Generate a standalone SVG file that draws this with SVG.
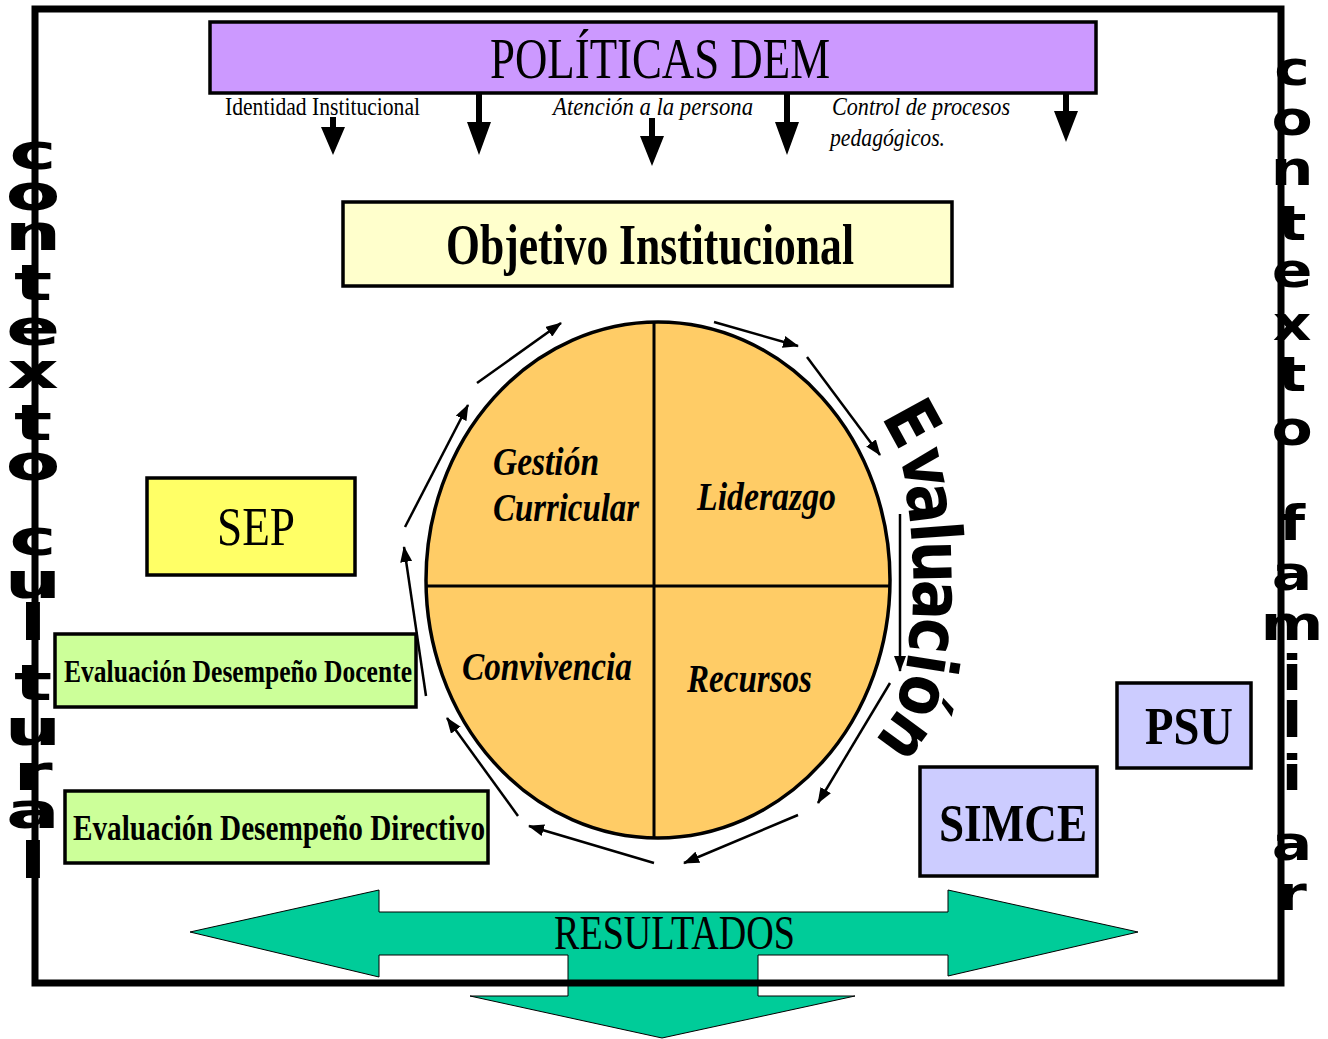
<svg xmlns="http://www.w3.org/2000/svg" width="1328" height="1039" viewBox="0 0 1328 1039">
<style>
.serif{font-family:"Liberation Serif","Times New Roman",serif;fill:#000}
.b{font-weight:bold}
.i{font-style:italic}
.ctx{font-family:"DejaVu Sans",sans-serif;font-weight:bold;fill:#000;text-anchor:middle}
.ev{font-family:"DejaVu Sans",sans-serif;font-weight:bold;fill:#000;text-anchor:middle;font-size:70px}
.box{stroke:#000;stroke-width:3.5}
.cyc{stroke:#000;stroke-width:2.5;fill:none;marker-end:url(#ah)}
.dn{fill:#000}
</style>
<defs>
<marker id="ah" markerUnits="userSpaceOnUse" markerWidth="16" markerHeight="12" refX="15" refY="6" orient="auto">
<path d="M0,0 L16,6 L0,12 z" fill="#000"/>
</marker>
</defs>
<rect width="1328" height="1039" fill="#fff"/>

<g id="resultados">
<polygon points="190,932 379,890 379,912 948,912 948,890 1138,932 948,976 948,955 758,955 758,996 855,996 662,1038 470,996 568,996 568,955 379,955 379,977" fill="#00CC99" stroke="#000" stroke-width="1"/>
<text class="serif" x="554" y="949" font-size="48" textLength="241" lengthAdjust="spacingAndGlyphs">RESULTADOS</text>
</g>

<g id="frame">
<rect x="35" y="9" width="1246" height="974" fill="none" stroke="#000" stroke-width="7"/>
</g>

<g id="politicas">
<rect class="box" x="210" y="22" width="886" height="71" fill="#CC99FF" stroke-width="4"/>
<text class="serif" x="490" y="78" font-size="56" textLength="340" lengthAdjust="spacingAndGlyphs">POLÍTICAS DEM</text>
</g>

<g id="labels">
<text class="serif" x="225" y="115" font-size="25" textLength="195" lengthAdjust="spacingAndGlyphs">Identidad Institucional</text>
<text class="serif i" x="553" y="115" font-size="25" textLength="200" lengthAdjust="spacingAndGlyphs">Atención a la persona</text>
<text class="serif i" x="832" y="115" font-size="25" textLength="178" lengthAdjust="spacingAndGlyphs">Control de procesos</text>
<text class="serif i" x="830" y="146" font-size="25" textLength="115" lengthAdjust="spacingAndGlyphs">pedagógicos.</text>
</g>

<g id="down-arrows">
<polygon class="dn" points="330,117 336,117 336,127 345,127 333,155 321,127 330,127"/>
<polygon class="dn" points="476,94 482,94 482,122 491,122 479,155 467,122 476,122"/>
<polygon class="dn" points="649,118 655,118 655,136 664,136 652,166 640,136 649,136"/>
<polygon class="dn" points="784,94 790,94 790,122 799,122 787,155 775,122 784,122"/>
<polygon class="dn" points="1063,94 1069,94 1069,111 1078,111 1066,142 1054,111 1063,111"/>
</g>

<g id="objetivo">
<rect class="box" x="343" y="202" width="609" height="84" fill="#FFFFCC"/>
<text class="serif b" x="446" y="264" font-size="58" textLength="408" lengthAdjust="spacingAndGlyphs">Objetivo Institucional</text>
</g>

<g id="circulo">
<ellipse cx="658" cy="580" rx="232" ry="258" fill="#FFCC66" stroke="#000" stroke-width="3.5"/>
<line x1="654" y1="322" x2="654" y2="838" stroke="#000" stroke-width="3"/>
<line x1="426" y1="586" x2="890" y2="586" stroke="#000" stroke-width="3"/>
<text class="serif b i" x="493" y="475" font-size="40" textLength="106" lengthAdjust="spacingAndGlyphs">Gestión</text>
<text class="serif b i" x="493" y="521" font-size="40" textLength="146" lengthAdjust="spacingAndGlyphs">Curricular</text>
<text class="serif b i" x="697" y="510" font-size="40" textLength="139" lengthAdjust="spacingAndGlyphs">Liderazgo</text>
<text class="serif b i" x="462" y="680" font-size="40" textLength="170" lengthAdjust="spacingAndGlyphs">Convivencia</text>
<text class="serif b i" x="687" y="692" font-size="40" textLength="125" lengthAdjust="spacingAndGlyphs">Recursos</text>
</g>

<g id="connectors">
<line class="cyc" x1="477" y1="383" x2="561" y2="323"/>
<line class="cyc" x1="714" y1="322" x2="798" y2="346"/>
<line class="cyc" x1="807" y1="357" x2="880" y2="455"/>
<line class="cyc" x1="900" y1="514" x2="900" y2="671"/>
<line class="cyc" x1="890" y1="683" x2="818" y2="803"/>
<line class="cyc" x1="798" y1="815" x2="684" y2="863"/>
<line class="cyc" x1="654" y1="863" x2="529" y2="826"/>
<line class="cyc" x1="518" y1="816" x2="447" y2="718"/>
<line class="cyc" x1="426" y1="696" x2="404" y2="547"/>
<line class="cyc" x1="405" y1="527" x2="468" y2="405"/>
</g>

<g id="evaluacion">
<g transform="translate(910,424) rotate(61.3)"><text class="ev" y="22" transform="scale(0.85,1)">E</text></g>
<g transform="translate(925,468) rotate(77.5)"><text class="ev" y="22" transform="scale(0.85,1)">v</text></g>
<g transform="translate(930,503) rotate(82.7)"><text class="ev" y="22" transform="scale(0.85,1)">a</text></g>
<g transform="translate(933,532) rotate(85.8)"><text class="ev" y="22" transform="scale(0.85,1)">l</text></g>
<g transform="translate(935,562) rotate(88.6)"><text class="ev" y="22" transform="scale(0.85,1)">u</text></g>
<g transform="translate(935,600) rotate(92.1)"><text class="ev" y="22" transform="scale(0.85,1)">a</text></g>
<g transform="translate(932,636) rotate(95.6)"><text class="ev" y="22" transform="scale(0.85,1)">c</text></g>
<g transform="translate(929,664) rotate(99)"><text class="ev" y="22" transform="scale(0.85,1)">i</text></g>
<g transform="translate(922,696) rotate(104.5)"><text class="ev" y="22" transform="scale(0.85,1)">ó</text></g>
<g transform="translate(905,737) rotate(126.3)"><text class="ev" y="22" transform="scale(0.85,1)">n</text></g>
</g>

<g id="sep">
<rect class="box" x="147" y="478" width="208" height="97" fill="#FFFF66"/>
<text class="serif" x="217" y="545" font-size="54" textLength="78" lengthAdjust="spacingAndGlyphs">SEP</text>
</g>

<g id="docente">
<rect class="box" x="55" y="634" width="361" height="73" fill="#CCFF99"/>
<text class="serif b" x="64" y="682" font-size="32" textLength="348" lengthAdjust="spacingAndGlyphs">Evaluación Desempeño Docente</text>
</g>

<g id="directivo">
<rect class="box" x="65" y="791" width="423" height="72" fill="#CCFF99"/>
<text class="serif b" x="73" y="840" font-size="35" textLength="412" lengthAdjust="spacingAndGlyphs">Evaluación Desempeño Directivo</text>
</g>

<g id="psu">
<rect class="box" x="1117" y="683" width="134" height="85" fill="#CCCCFF"/>
<text class="serif b" x="1145" y="744" font-size="53" textLength="88" lengthAdjust="spacingAndGlyphs">PSU</text>
</g>

<g id="simce">
<rect class="box" x="920" y="767" width="177" height="109" fill="#CCCCFF"/>
<text class="serif b" x="939" y="841" font-size="53" textLength="148" lengthAdjust="spacingAndGlyphs">SIMCE</text>
</g>

<g id="contexto-cultural" font-size="50">
<text class="ctx" transform="translate(33,169) scale(1.6,1)">c</text>
<text class="ctx" transform="translate(33,210) scale(1.6,1)">o</text>
<text class="ctx" transform="translate(33,250) scale(1.6,1)">n</text>
<text class="ctx" transform="translate(33,300) scale(1.6,1)">t</text>
<text class="ctx" transform="translate(33,345) scale(1.6,1)">e</text>
<text class="ctx" transform="translate(33,388) scale(1.6,1)">x</text>
<text class="ctx" transform="translate(33,440) scale(1.6,1)">t</text>
<text class="ctx" transform="translate(33,480) scale(1.6,1)">o</text>
<text class="ctx" transform="translate(33,555) scale(1.6,1)">c</text>
<text class="ctx" transform="translate(33,598) scale(1.6,1)">u</text>
<text class="ctx" transform="translate(33,640) scale(1.6,1)">l</text>
<text class="ctx" transform="translate(33,700) scale(1.6,1)">t</text>
<text class="ctx" transform="translate(33,745) scale(1.6,1)">u</text>
<text class="ctx" transform="translate(33,790) scale(1.6,1)">r</text>
<text class="ctx" transform="translate(33,828) scale(1.6,1)">a</text>
<text class="ctx" transform="translate(33,878) scale(1.6,1)">l</text>
</g>

<g id="contexto-familiar" font-size="48">
<text class="ctx" transform="translate(1292,85) scale(1.25,1)">c</text>
<text class="ctx" transform="translate(1292,135) scale(1.25,1)">o</text>
<text class="ctx" transform="translate(1292,185) scale(1.25,1)">n</text>
<text class="ctx" transform="translate(1292,240) scale(1.25,1)">t</text>
<text class="ctx" transform="translate(1292,287) scale(1.25,1)">e</text>
<text class="ctx" transform="translate(1292,340) scale(1.25,1)">x</text>
<text class="ctx" transform="translate(1292,391) scale(1.25,1)">t</text>
<text class="ctx" transform="translate(1292,445) scale(1.25,1)">o</text>
<text class="ctx" transform="translate(1292,540) scale(1.25,1)">f</text>
<text class="ctx" transform="translate(1292,590) scale(1.25,1)">a</text>
<text class="ctx" transform="translate(1292,640) scale(1.25,1)">m</text>
<text class="ctx" transform="translate(1292,690) scale(1.25,1)">i</text>
<text class="ctx" transform="translate(1292,737) scale(1.25,1)">l</text>
<text class="ctx" transform="translate(1292,790) scale(1.25,1)">i</text>
<text class="ctx" transform="translate(1292,860) scale(1.25,1)">a</text>
<text class="ctx" transform="translate(1292,910) scale(1.25,1)">r</text>
</g>
</svg>
